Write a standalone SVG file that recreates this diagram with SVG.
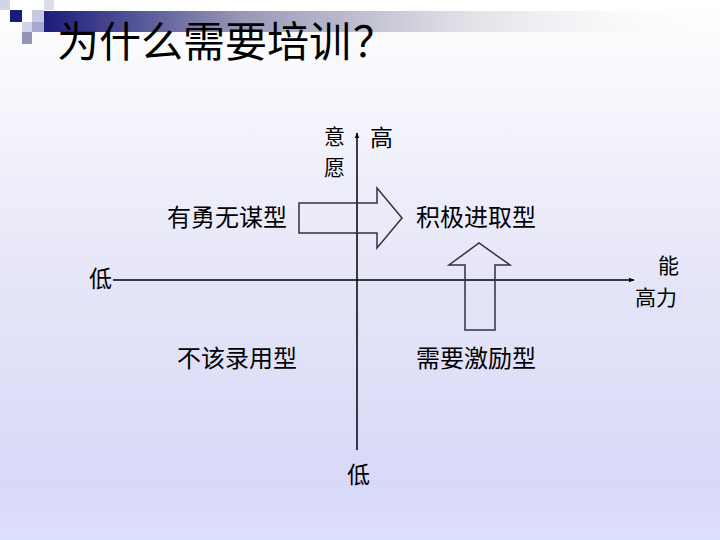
<svg xmlns="http://www.w3.org/2000/svg" width="720" height="540" viewBox="0 0 720 540">
<defs>
<linearGradient id="bg" x1="0" y1="0" x2="0" y2="1">
<stop offset="0" stop-color="#ffffff"/>
<stop offset="0.5" stop-color="#e6e6f8"/>
<stop offset="0.9" stop-color="#d8d8f8"/>
<stop offset="1" stop-color="#dde0fc"/>
</linearGradient>
<linearGradient id="bar" x1="0" y1="0" x2="1" y2="0">
<stop offset="0" stop-color="#1c1c7c"/>
<stop offset="0.3" stop-color="#9a9ab8"/>
<stop offset="0.6" stop-color="#dcdce4"/>
<stop offset="1" stop-color="#ffffff" stop-opacity="0"/>
</linearGradient>
<marker id="ah" viewBox="0 0 10 10" refX="9" refY="5" markerWidth="6" markerHeight="6" orient="auto" markerUnits="userSpaceOnUse">
<path d="M0,1 L10,5 L0,9 Z" fill="#000"/>
</marker>
<style>
.lbl{font-family:"Noto Sans CJK SC","Noto Sans",sans-serif;font-size:23px;fill:#000}
.stk{font-family:"Noto Sans CJK SC","Noto Sans",sans-serif;font-size:21px;fill:#000}
.q{font-family:"Noto Sans CJK SC","Noto Sans",sans-serif;font-size:24px;fill:#000}
.ttl{font-family:"Noto Sans CJK SC","Noto Sans",sans-serif;font-size:42px;fill:#000}
.axis{stroke:#000;stroke-width:1.5;fill:none}
.big{fill:none;stroke:#303040;stroke-width:1.5}
</style>
</defs>
<rect width="720" height="540" fill="url(#bg)"/>
<g id="decor">
<rect x="44" y="11" width="676" height="21" fill="url(#bar)"/>
<rect x="0" y="0" width="10" height="10" fill="#d4d4e4"/>
<rect x="44" y="0" width="10" height="10" fill="#dcdcec"/>
<rect x="10" y="10" width="12" height="12" fill="#1a1a78"/>
<rect x="32" y="10" width="12" height="12" fill="#c8c8e0"/>
<rect x="22" y="22" width="10" height="10" fill="#d4d4e8"/>
<rect x="32" y="22" width="12" height="10" fill="#a8a8cc"/>
<rect x="22" y="32" width="10" height="12" fill="#9494b4"/>
</g>
<text class="ttl" x="57" y="57">为什么需要培训<tspan x="353">？</tspan></text>
<g id="connectors">
<line class="axis" x1="357" y1="450" x2="357" y2="133" marker-end="url(#ah)"/>
<line class="axis" x1="113" y1="280" x2="634" y2="280" marker-end="url(#ah)"/>
</g>
<g id="arrow-right">
<path class="big" d="M299,203 H377 V188 L402,218 L377,248 V233 H299 Z"/>
</g>
<g id="arrow-up">
<path class="big" d="M465,330 V265 H449 L479,243 L510,265 H495 V330 Z"/>
</g>
<g id="axis-labels">
<text class="stk" x="324" y="144">意</text>
<text class="stk" x="324" y="175">愿</text>
<text class="lbl" x="370" y="146">高</text>
<text class="lbl" x="89" y="287">低</text>
<text class="lbl" x="347" y="483">低</text>
<text class="stk" x="658" y="273">能</text>
<text class="stk" x="635" y="305">高力</text>
</g>
<g id="q1"><text class="q" x="167" y="226">有勇无谋型</text></g>
<g id="q2"><text class="q" x="416" y="226">积极进取型</text></g>
<g id="q3"><text class="q" x="177" y="367">不该录用型</text></g>
<g id="q4"><text class="q" x="416" y="367">需要激励型</text></g>
</svg>
